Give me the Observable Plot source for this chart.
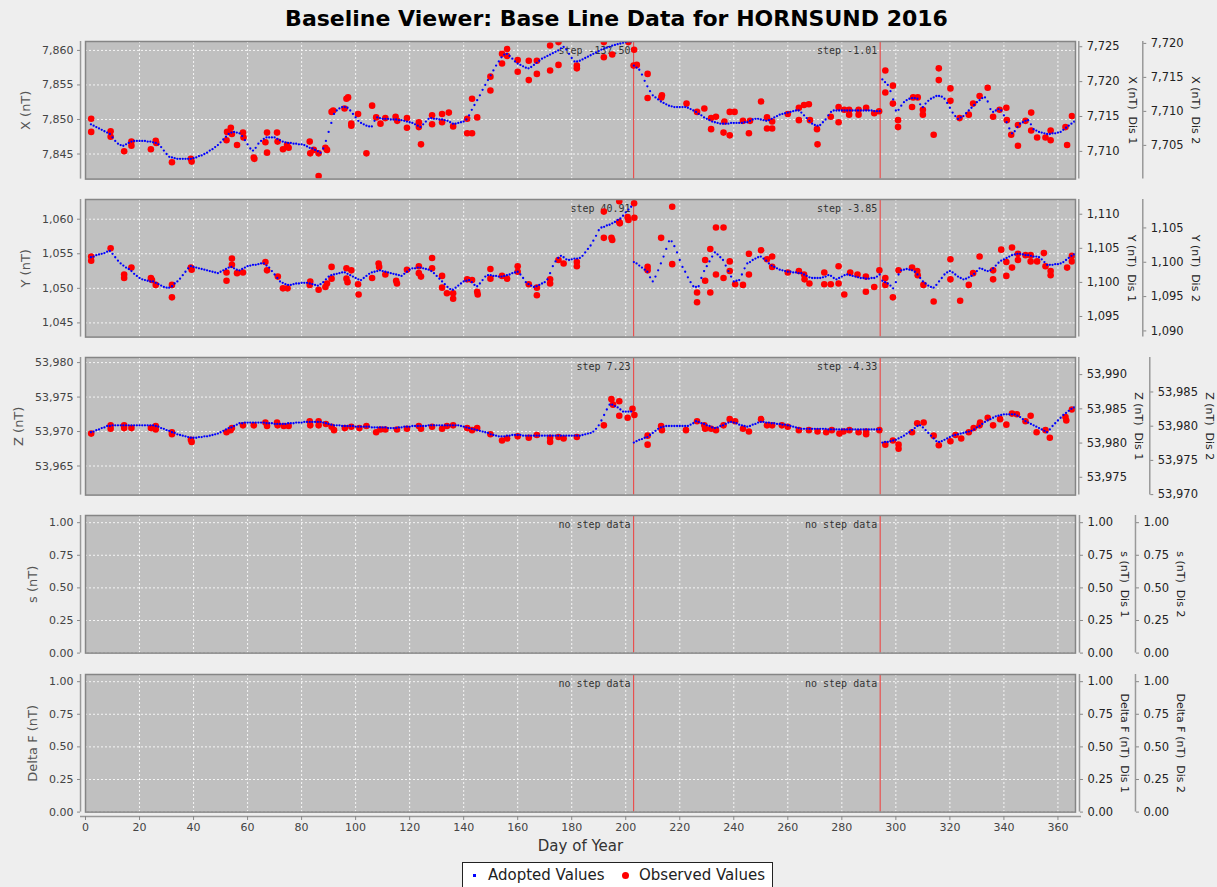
<!DOCTYPE html>
<html>
<head>
<meta charset="utf-8">
<script src="https://cdn.jsdelivr.net/npm/d3@7"></script>
<script src="https://cdn.jsdelivr.net/npm/@observablehq/plot@0.6"></script>
<style>
  html, body { margin: 0; padding: 0; background: #eeeeee; }
  #chart { position: relative; width: 1217px; height: 887px; overflow: hidden; font-family: "DejaVu Sans", sans-serif; }
  #title { position: absolute; left: 8px; width: 1217px; top: 6px; text-align: center; font: bold 22px "DejaVu Sans", sans-serif; color: #000; white-space: nowrap; }
  #legend { position: absolute; left: 462px; top: 862px; width: 309px; height: 30px; background: #fff; border: 1px solid #222; font: 15px "DejaVu Sans", sans-serif; color: #222; }
  #legend span { position: absolute; white-space: nowrap; }
  #legend .adopted-sym { left: 10px; top: 11px; width: 2.5px; height: 2.5px; background: #0000ff; }
  #legend .observed-sym { left: 159px; top: 8.5px; width: 7px; height: 7px; border-radius: 50%; background: #ff0000; }
  #legend .adopted-txt { left: 25px; top: 3px; }
  #legend .observed-txt { left: 176px; top: 3px; }
</style>
</head>
<body>
<div id="chart">
  <div id="title">Baseline Viewer: Base Line Data for HORNSUND 2016</div>
  <div id="legend">
    <span class="adopted-sym"></span><span class="adopted-txt">Adopted Values</span>
    <span class="observed-sym"></span><span class="observed-txt">Observed Values</span>
  </div>
</div>
<script>
// ---------- data ----------
const dayTicks = [0, 20, 40, 60, 80, 100, 120, 140, 160, 180, 200, 220, 240, 260, 280, 300, 320, 340, 360];
const dayDomain = [0, 366.5];
const stepDays = [202.9, 294.2];

const stepLabelsX = ["step -137.50", "step -1.01"];
const stepLabelsY = ["step 40.91", "step -3.85"];
const stepLabelsZ = ["step 7.23", "step -4.33"];
const stepLabelsNone = ["no step data", "no step data"];

const xTicks = [7845, 7850, 7855, 7860];
const xDis1Ticks = [7710, 7715, 7720, 7725];
const xDis2Ticks = [7705, 7710, 7715, 7720];
const yTicks = [1045, 1050, 1055, 1060];
const yDis1Ticks = [1095, 1100, 1105, 1110];
const yDis2Ticks = [1090, 1095, 1100, 1105];
const zTicks = [53965, 53970, 53975, 53980];
const zDis1Ticks = [53975, 53980, 53985, 53990];
const zDis2Ticks = [53970, 53975, 53980, 53985];
const unitTicks = [0, 0.25, 0.5, 0.75, 1];

// daily adopted baseline values, first entry is day 2
const firstAdoptedDay = 2;
const adoptedX = [
  7849.3,7849.1,7848.9,7848.7,7848.5,7848.3,7848.1,7847.9,7847.4,7846.9,
  7846.5,7846.3,7846.2,7846.4,7846.6,7846.8,7846.9,7846.9,7846.9,7846.9,
  7846.9,7846.8,7846.8,7846.7,7846.6,7846.4,7846.0,7845.5,7845.0,7844.6,
  7844.5,7844.4,7844.3,7844.3,7844.3,7844.3,7844.3,7844.3,7844.4,7844.5,
  7844.7,7844.8,7845.0,7845.2,7845.5,7845.7,7846.0,7846.3,7846.7,7847.1,
  7847.5,7847.9,7848.1,7848.2,7848.1,7848.0,7847.6,7847.0,7846.4,7845.8,
  7845.5,7845.9,7846.5,7846.9,7847.2,7847.4,7847.4,7847.4,7847.4,7847.2,
  7847.0,7846.8,7846.7,7846.6,7846.6,7846.5,7846.5,7846.4,7846.4,7846.3,
  7846.1,7845.9,7845.8,7845.6,7845.4,7845.2,7845.8,7846.9,7848.2,7849.5,
  7850.8,7851.3,7851.6,7851.8,7851.8,7851.7,7851.3,7850.8,7850.3,7849.8,
  7849.5,7849.3,7849.1,7849.0,7849.0,7849.8,7850.3,7850.2,7850.1,7850.1,
  7850.1,7850.0,7850.0,7850.0,7849.9,7849.9,7849.8,7849.7,7849.6,7849.5,
  7849.3,7849.1,7848.9,7849.3,7849.7,7850.1,7850.2,7850.1,7850.1,7850.0,
  7850.0,7849.9,7849.8,7849.6,7849.4,7849.4,7849.5,7849.6,7849.7,7850.0,
  7850.6,7851.4,7852.1,7852.8,7853.5,7854.3,7855.0,7855.7,7856.4,7857.1,
  7857.8,7858.4,7859.0,7859.4,7859.5,7859.2,7858.8,7858.4,7858.1,7857.9,
  7857.7,7857.5,7857.4,7857.6,7857.9,7858.2,7858.5,7858.8,7859.0,7859.2,
  7859.4,7859.6,7859.8,7860.0,7860.3,7860.5,7860.1,7859.5,7858.9,7858.4,
  7858.4,7858.5,7858.7,7858.9,7859.1,7859.3,7859.5,7859.7,7859.9,7860.1,
  7860.3,7860.4,7860.5,7860.7,7860.8,7860.9,7861.0,7861.1,7861.2,7861.3,
  7861.3,7857.8,7857.5,7857.2,7856.5,7855.6,7854.8,7854.1,7853.5,7853.2,
  7852.9,7852.6,7852.4,7852.2,7852.0,7851.9,7851.8,7851.8,7851.8,7851.8,
  7851.8,7851.7,7851.5,7851.3,7851.1,7850.8,7850.6,7850.3,7850.1,7849.9,
  7849.7,7849.6,7849.5,7849.4,7849.4,7849.4,7849.4,7849.5,7849.5,7849.5,
  7849.5,7849.5,7849.6,7849.6,7849.8,7850.0,7850.1,7850.1,7850.0,7849.9,
  7849.8,7849.9,7850.1,7850.3,7850.5,7850.7,7850.8,7850.9,7851.0,7851.1,
  7851.2,7851.3,7851.3,7851.0,7850.6,7850.2,7849.8,7849.4,7849.2,7849.1,
  7849.2,7849.6,7850.0,7850.6,7851.1,7851.3,7851.3,7851.3,7851.3,7851.3,
  7851.3,7851.3,7851.3,7851.3,7851.3,7851.3,7851.3,7851.3,7851.3,7851.3,
  7851.2,7851.2,7851.2,7855.8,7855.4,7855.0,7854.1,7852.9,7851.3,7851.4,
  7852.0,7852.5,7852.8,7853.0,7853.1,7853.1,7853.0,7852.2,7851.8,7852.3,
  7852.7,7853.0,7853.2,7853.4,7853.4,7853.3,7853.0,7852.4,7851.7,7851.0,
  7850.5,7850.1,7850.3,7850.5,7850.9,7851.3,7851.7,7852.1,7852.5,7852.8,
  7853.1,7853.2,7852.6,7851.5,7851.1,7851.3,7851.5,7851.3,7850.6,7849.6,
  7848.7,7848.0,7848.3,7848.9,7849.4,7849.6,7849.8,7849.9,7849.3,7848.6,
  7848.4,7848.2,7848.1,7848.0,7847.9,7847.9,7848.0,7848.0,7848.1,7848.2,
  7848.5,7848.8,7849.1,7849.4,7849.7
];
const adoptedY = [
  1054.5,1054.6,1054.8,1054.9,1055.0,1055.1,1055.3,1055.4,1055.0,1054.5,
  1054.0,1053.6,1053.3,1053.0,1052.8,1052.5,1052.1,1051.8,1051.5,1051.3,
  1051.2,1051.1,1051.0,1051.0,1050.8,1050.6,1050.4,1050.2,1050.1,1050.1,
  1050.3,1050.7,1051.0,1051.4,1051.9,1052.4,1052.9,1053.2,1053.1,1053.0,
  1052.9,1052.8,1052.7,1052.6,1052.5,1052.4,1052.3,1052.2,1052.4,1052.6,
  1052.8,1053.0,1053.1,1052.9,1052.7,1052.6,1052.8,1053.0,1053.2,1053.3,
  1053.4,1053.4,1053.5,1053.6,1053.6,1053.3,1053.0,1052.5,1052.0,1051.5,
  1051.0,1050.8,1050.6,1050.5,1050.5,1050.6,1050.7,1050.7,1050.8,1050.8,
  1050.8,1050.7,1050.6,1050.5,1050.4,1050.6,1050.9,1051.3,1051.7,1051.9,
  1052.0,1052.1,1052.2,1052.3,1052.3,1052.1,1051.9,1051.7,1051.5,1051.3,
  1051.2,1051.5,1051.8,1052.1,1052.3,1052.4,1052.5,1052.6,1052.5,1052.4,
  1052.3,1052.2,1052.1,1052.0,1051.9,1051.8,1052.1,1052.4,1052.7,1052.9,
  1052.9,1053.0,1053.0,1052.9,1052.8,1052.7,1052.5,1052.2,1051.8,1051.4,
  1051.0,1050.6,1050.2,1049.9,1049.8,1050.1,1050.4,1050.7,1051.0,1051.1,
  1051.2,1050.9,1050.5,1050.3,1050.7,1051.2,1051.7,1051.9,1051.9,1051.8,
  1051.8,1051.7,1051.7,1051.8,1051.9,1052.0,1052.2,1052.3,1052.4,1052.0,
  1051.5,1050.9,1050.6,1050.4,1050.2,1050.3,1050.5,1050.7,1050.9,1051.3,
  1052.2,1053.2,1053.9,1054.4,1054.7,1054.5,1054.2,1054.1,1054.2,1054.3,
  1054.3,1054.4,1054.7,1055.2,1055.7,1056.2,1056.9,1057.6,1058.4,1058.8,
  1058.9,1059.1,1059.2,1059.4,1059.6,1059.9,1060.1,1060.5,1061.0,1061.4,
  1061.8,1053.8,1053.6,1053.3,1053.0,1052.7,1052.4,1051.6,1051.0,1051.7,
  1052.6,1053.6,1054.6,1055.7,1056.8,1056.8,1056.1,1055.2,1054.1,1053.1,
  1052.4,1051.6,1050.9,1050.3,1050.2,1050.3,1051.5,1052.5,1053.2,1053.9,
  1054.6,1055.2,1054.9,1054.5,1054.1,1053.3,1052.5,1051.7,1051.0,1051.1,
  1051.2,1052.0,1052.9,1053.6,1053.8,1054.1,1054.3,1054.5,1054.6,1054.3,
  1054.0,1053.6,1053.3,1053.1,1052.9,1052.7,1052.6,1052.5,1052.4,1052.4,
  1052.3,1052.3,1052.2,1052.2,1052.0,1051.8,1051.6,1051.5,1051.5,1051.5,
  1051.5,1051.6,1051.7,1051.9,1051.8,1051.5,1051.3,1051.5,1051.7,1051.9,
  1052.0,1051.9,1051.8,1051.7,1051.6,1051.5,1051.5,1051.4,1051.4,1051.5,
  1051.5,1051.7,1052.0,1051.1,1050.9,1050.7,1050.4,1050.0,1050.9,1052.0,
  1052.6,1052.7,1052.8,1052.7,1052.6,1052.4,1052.0,1051.5,1051.0,1050.7,
  1050.4,1050.2,1050.1,1050.5,1051.0,1051.5,1052.0,1052.3,1052.5,1052.3,
  1052.0,1051.7,1051.5,1051.3,1051.4,1051.6,1051.8,1052.1,1052.5,1052.9,
  1052.8,1052.6,1052.5,1052.6,1052.9,1053.3,1053.7,1054.0,1054.2,1054.4,
  1054.6,1054.8,1054.9,1055.0,1055.0,1054.9,1054.8,1054.8,1054.7,1054.6,
  1054.6,1054.5,1054.2,1053.8,1053.4,1053.4,1053.4,1053.5,1053.5,1053.6,
  1053.8,1054.1,1054.4,1054.7,1054.9
];
const adoptedZ = [
  53969.9,53970.0,53970.2,53970.3,53970.5,53970.6,53970.8,53970.8,53970.9,53970.9,
  53970.9,53970.9,53970.9,53970.9,53970.9,53970.9,53970.9,53970.9,53970.9,53970.9,
  53970.9,53970.9,53970.9,53970.9,53970.8,53970.7,53970.5,53970.4,53970.2,53970.1,
  53969.9,53969.8,53969.6,53969.5,53969.4,53969.3,53969.2,53969.1,53969.1,53969.1,
  53969.2,53969.2,53969.3,53969.3,53969.4,53969.5,53969.6,53969.7,53969.9,53970.1,
  53970.3,53970.5,53970.6,53970.8,53971.0,53971.2,53971.2,53971.3,53971.3,53971.3,
  53971.3,53971.3,53971.3,53971.3,53971.3,53971.2,53971.2,53971.2,53971.1,53971.1,
  53971.1,53971.1,53971.1,53971.2,53971.2,53971.2,53971.3,53971.3,53971.3,53971.4,
  53971.4,53971.4,53971.4,53971.4,53971.4,53971.4,53971.3,53971.2,53971.1,53971.0,
  53970.9,53970.9,53970.9,53970.8,53970.8,53970.8,53970.8,53970.8,53970.7,53970.7,
  53970.7,53970.7,53970.7,53970.7,53970.6,53970.6,53970.6,53970.6,53970.6,53970.6,
  53970.5,53970.5,53970.5,53970.5,53970.6,53970.6,53970.7,53970.7,53970.7,53970.8,
  53970.8,53970.8,53970.8,53970.8,53970.8,53970.9,53970.9,53970.9,53970.9,53970.9,
  53970.9,53970.9,53970.9,53970.9,53970.9,53970.9,53970.9,53970.8,53970.7,53970.6,
  53970.5,53970.4,53970.3,53970.2,53970.1,53970.0,53969.9,53969.8,53969.6,53969.5,
  53969.4,53969.3,53969.3,53969.3,53969.4,53969.4,53969.5,53969.5,53969.5,53969.5,
  53969.4,53969.4,53969.4,53969.4,53969.4,53969.4,53969.4,53969.4,53969.4,53969.4,
  53969.4,53969.4,53969.4,53969.4,53969.4,53969.4,53969.4,53969.4,53969.4,53969.4,
  53969.4,53969.4,53969.5,53969.6,53969.7,53969.8,53970.0,53970.4,53970.9,53971.6,
  53972.4,53973.2,53973.9,53973.9,53973.7,53973.5,53973.2,53972.9,53972.9,53972.9,
  53972.9,53968.4,53968.6,53968.8,53968.9,53969.1,53969.2,53969.5,53969.8,53970.1,
  53970.4,53970.6,53970.7,53970.8,53970.8,53970.8,53970.8,53970.8,53970.8,53970.8,
  53970.8,53970.8,53971.0,53971.2,53971.5,53971.4,53971.2,53971.1,53970.9,53970.8,
  53970.6,53970.5,53970.6,53970.8,53970.9,53971.1,53971.3,53971.4,53971.3,53971.2,
  53971.0,53970.9,53970.8,53970.7,53970.8,53971.0,53971.1,53971.3,53971.4,53971.4,
  53971.3,53971.3,53971.2,53971.2,53971.1,53971.1,53971.0,53971.0,53970.9,53970.8,
  53970.7,53970.6,53970.5,53970.4,53970.4,53970.4,53970.4,53970.4,53970.4,53970.4,
  53970.4,53970.4,53970.4,53970.3,53970.3,53970.3,53970.3,53970.3,53970.3,53970.3,
  53970.3,53970.3,53970.3,53970.3,53970.3,53970.3,53970.3,53970.3,53970.3,53970.3,
  53970.3,53970.3,53970.3,53968.4,53968.5,53968.5,53968.6,53968.7,53968.8,53969.0,
  53969.2,53969.4,53969.7,53969.9,53970.2,53970.5,53970.8,53970.9,53970.6,53970.2,
  53969.8,53969.4,53969.0,53968.6,53968.5,53968.6,53968.8,53969.0,53969.2,53969.4,
  53969.5,53969.6,53969.7,53969.8,53969.9,53970.0,53970.1,53970.3,53970.6,53970.8,
  53971.1,53971.4,53971.6,53971.8,53972.0,53972.2,53972.3,53972.4,53972.5,53972.5,
  53972.5,53972.5,53972.5,53972.3,53972.1,53971.8,53971.5,53971.3,53971.1,53970.9,
  53970.7,53970.5,53970.3,53970.1,53969.9,53970.3,53970.8,53971.2,53971.6,53972.0,
  53972.4,53972.7,53973.0,53973.3,53973.5
];

// observed absolute measurements: [day of year, value]
const observedX = [
  [2.1,7850.1],[2.1,7848.2],[9.3,7848.3],[9.3,7847.5],[14.3,7845.4],[17,7846.8],[17,7846.2],[24.2,7845.7],[26,7846.9],[26.2,7846.6],
  [32,7843.8],[39,7844.3],[39.3,7843.9],[52.2,7847.0],[52.4,7848.2],[53.8,7848.8],[54.2,7847.9],[56.1,7846.3],[58.3,7848.1],[58.5,7847.4],
  [62.3,7844.5],[62.5,7844.3],[66.6,7846.7],[67.2,7848.1],[67.2,7845.2],[70.9,7848.1],[71.1,7846.8],[73.1,7845.7],[74.6,7846.3],[75.2,7845.9],
  [83,7846.8],[83.2,7845.1],[84.5,7845.6],[86.3,7845.1],[86.3,7841.8],[88.8,7845.9],[89.4,7845.6],[91.1,7851.1],[91.7,7851.3],[95.9,7851.6],
  [96.6,7853.0],[97.2,7853.2],[98.4,7849.1],[98.4,7849.4],[100.9,7850.8],[104,7845.1],[106.1,7852.0],[107.6,7850.3],[109.2,7849.4],[111,7850.2],
  [114.8,7850.4],[115.4,7849.8],[119,7850.2],[119,7848.8],[123.4,7849.6],[123.4,7848.9],[124.2,7846.4],[128.3,7850.6],[128.3,7849.3],[132,7850.8],
  [132,7849.6],[134.5,7851.0],[136.1,7849.0],[141.3,7850.1],[141.3,7848.0],[143.1,7848.0],[143.1,7853.0],[145,7850.3],[149.9,7854.2],[149.9,7856.2],
  [154.2,7859.5],[154.2,7858.1],[156.1,7860.2],[156.1,7859.2],[160,7858.6],[160,7856.9],[164.1,7858.5],[164.1,7855.7],[167.1,7858.5],[167.1,7856.6],
  [172,7860.7],[172,7857.1],[175.1,7861.2],[175.1,7857.9],[181.9,7857.8],[181.9,7857.4],[191.9,7861.2],[191.9,7859.0],[195,7859.4],[201,7861.2],
  [202.9,7857.8],[203.1,7860.1],[204.1,7857.9],[208.1,7856.6],[208.1,7853.1],[213.4,7853.5],[213.2,7853.2],[222.5,7852.3],[226.4,7851.1],[229.1,7851.6],
  [231.6,7850.2],[231.6,7848.6],[233.4,7850.4],[236.5,7849.7],[236.2,7848.1],[238.5,7851.1],[238.5,7847.7],[240.3,7851.1],[243.4,7849.8],[245.6,7848.0],
  [246,7849.8],[250.1,7852.6],[252.3,7850.3],[252.3,7848.7],[254.2,7848.7],[254.2,7849.7],[260,7850.8],[264.1,7849.9],[264.1,7851.7],[266,7852.1],
  [267.8,7852.2],[268.2,7849.9],[270.8,7848.6],[271,7846.4],[275.9,7850.4],[278.8,7851.8],[278.8,7849.6],[280.9,7851.4],[282.7,7851.4],[282.7,7850.7],
  [286.2,7851.4],[286.2,7850.7],[289,7851.7],[292,7850.9],[293.8,7851.2],[296.1,7857.1],[296.1,7853.9],[298.9,7854.9],[298.9,7852.3],[300.8,7849.9],
  [300.8,7848.9],[306,7851.8],[306.4,7853.2],[308.1,7853.2],[310,7851.4],[310,7850.7],[314,7847.8],[315.9,7857.4],[315.9,7855.7],[320.2,7854.5],
  [320.2,7852.7],[323.6,7850.2],[327,7850.7],[328.6,7852.3],[331,7853.4],[334,7854.6],[336,7850.4],[338.4,7851.4],[340.9,7851.7],[341.1,7849.9],
  [342.7,7847.8],[345.2,7849.2],[345.2,7846.2],[348,7849.8],[350.1,7851.0],[350.1,7848.4],[352.3,7847.4],[355.4,7847.4],[357.3,7848.4],[357.3,7847.0],
  [362.8,7848.9],[363.4,7846.3],[365.2,7850.5]
];
const observedY = [
  [2.1,1054.6],[2.1,1054.0],[9.3,1055.8],[14.3,1052.0],[14.3,1051.5],[17,1053.0],[24.2,1051.5],[24.6,1051.2],[26,1050.5],[32,1050.5],
  [32,1048.7],[39,1053.0],[39.3,1052.7],[52.2,1052.3],[52.2,1051.1],[54.2,1054.3],[54.2,1053.4],[56.1,1052.2],[58.3,1052.3],[66.6,1053.8],
  [67.2,1052.6],[71.2,1051.7],[73.1,1050.0],[74.8,1050.0],[83,1050.5],[83.2,1051.0],[86.3,1049.8],[88.8,1050.2],[89.4,1050.7],[91.1,1053.1],
  [91.1,1051.4],[96.6,1052.9],[96.6,1051.4],[97,1050.9],[98.4,1052.6],[100.9,1050.6],[101.1,1049.1],[106.1,1051.5],[108.5,1053.6],[108.7,1053.1],
  [111,1052.0],[115,1051.1],[115.3,1050.7],[119,1052.7],[123.4,1053.2],[123.4,1052.2],[124.2,1051.7],[128.3,1054.4],[128.3,1052.9],[132,1051.8],
  [132,1050.1],[133.8,1049.3],[136.1,1049.3],[136.1,1048.5],[141.3,1051.3],[143.1,1051.2],[145,1049.5],[145.2,1049.1],[149.9,1052.8],[149.9,1051.4],
  [154.2,1051.8],[156.1,1051.4],[160,1053.2],[160,1052.4],[164.1,1050.6],[167.1,1050.1],[167.1,1049.0],[172,1051.3],[172,1050.7],[175.1,1054.1],
  [177,1053.6],[181.9,1053.8],[181.9,1053.2],[191.9,1061.1],[191.9,1057.3],[194.7,1057.3],[195,1057.0],[197.6,1062.6],[197.6,1059.6],[197.8,1059.4],
  [200.7,1060.3],[201,1059.9],[203.1,1062.3],[203.2,1060.2],[208.1,1053.1],[208.1,1052.6],[213.1,1057.3],[217.2,1061.8],[217.2,1053.5],[226.4,1049.4],
  [226.4,1048.0],[229.4,1054.1],[229.4,1051.1],[231.3,1055.7],[231.3,1049.4],[233.4,1058.8],[233.4,1052.0],[236.2,1058.8],[236.2,1051.5],[238.5,1053.9],
  [238.5,1052.5],[240.5,1050.6],[243.4,1050.5],[245.6,1055.0],[245.6,1052.0],[250.1,1055.5],[252.3,1054.2],[254.2,1054.6],[254.2,1053.1],[260,1052.3],
  [264.1,1052.5],[266,1052.0],[266.2,1051.3],[268,1050.7],[273.5,1052.3],[273.5,1050.6],[275.9,1050.6],[278.8,1053.2],[278.8,1050.7],[280.9,1049.1],
  [283.1,1052.3],[285.8,1052.0],[288.9,1051.7],[288.9,1049.5],[292,1050.2],[293.9,1052.6],[296.1,1051.5],[296.1,1050.5],[298.9,1048.7],[301,1052.6],
  [306,1053.0],[307.9,1052.5],[308.1,1051.9],[310.2,1050.5],[314,1048.1],[320.2,1054.2],[320.2,1051.3],[323.8,1048.2],[327,1050.5],[328.6,1052.2],
  [331,1054.6],[336,1052.6],[336,1051.3],[339,1055.6],[340.9,1053.8],[340.9,1051.8],[343,1055.9],[343,1053.0],[345.2,1055.0],[345.2,1054.1],
  [348,1054.8],[349.9,1054.8],[349.9,1053.9],[352.3,1053.9],[354.8,1055.1],[355.4,1053.2],[357.3,1052.5],[357.3,1051.9],[363.4,1053.0],[365.2,1054.7],
  [365.2,1053.9]
];
const observedZ = [
  [2.1,53969.7],[9.3,53970.9],[9.3,53970.4],[14.3,53970.9],[14.3,53970.5],[17,53970.5],[24.2,53970.5],[26,53970.8],[26,53970.3],[32,53969.9],
  [32,53969.6],[39,53968.8],[39.3,53968.5],[52.2,53969.9],[53.7,53970.2],[54.2,53970.5],[58.3,53970.9],[62.3,53970.9],[66.6,53971.3],[67.2,53970.8],
  [70.9,53971.3],[71.1,53970.9],[73.4,53970.8],[75.2,53970.8],[83,53971.5],[83.2,53970.9],[86.3,53971.5],[86.3,53970.9],[89,53971.1],[91.1,53970.7],
  [92,53970.2],[96,53970.5],[98.4,53970.7],[101.4,53970.5],[104,53970.8],[107.6,53969.9],[109.2,53970.3],[111,53970.3],[115.3,53970.3],[119,53970.4],
  [123.4,53970.8],[124.2,53970.4],[128.3,53970.7],[132,53970.4],[133.8,53970.8],[136.1,53970.9],[141.3,53970.5],[143.1,53970.2],[145,53970.5],[149.9,53969.6],
  [154.2,53968.7],[156.1,53969.0],[160,53969.3],[164.1,53969.1],[167.1,53969.5],[172,53969.1],[172,53968.5],[175.1,53969.2],[177,53969.0],[181.9,53969.2],
  [191.9,53970.9],[194.7,53974.7],[195.3,53973.9],[197.6,53974.4],[197.6,53972.3],[200.7,53972.0],[202.5,53973.3],[203.2,53972.4],[208.1,53969.4],[208.1,53968.1],
  [213.1,53970.8],[213.4,53970.2],[222.3,53970.2],[226.4,53971.5],[229.1,53970.9],[229.4,53970.4],[231.6,53970.4],[233.4,53970.2],[236.2,53970.9],[238.5,53971.8],
  [240.5,53971.5],[243.4,53970.4],[245.6,53970.0],[250.1,53971.8],[252.3,53970.9],[254.2,53970.9],[257.8,53970.9],[260,53970.7],[264.1,53970.2],[267.8,53970.2],
  [271,53970.0],[274.2,53969.9],[276.3,53970.2],[279.1,53969.7],[280.6,53970.0],[282.8,53970.2],[286.2,53969.9],[289,53970.0],[289,53969.6],[293.9,53970.2],
  [296.1,53968.1],[298.9,53968.7],[301,53968.1],[301,53967.5],[306,53969.9],[307.9,53971.2],[310.3,53971.3],[314,53969.4],[315.9,53968.0],[320.2,53968.6],
  [322.1,53969.5],[324.2,53969.0],[327,53969.9],[328.8,53970.5],[331,53970.9],[331.2,53971.3],[334,53972.0],[336,53970.9],[338.6,53971.8],[340.9,53971.0],
  [343,53972.6],[344.8,53972.5],[348,53971.5],[349.9,53972.3],[352.1,53969.9],[355.4,53970.2],[357,53969.1],[362.8,53972.1],[363.1,53971.6],[365.2,53973.2]
];

// ---------- layout ----------
const FONT = "'DejaVu Sans', sans-serif";
const MONO = "'DejaVu Sans Mono', monospace";
const STEP_RED = "#e8504f";
const W = 1217, ML = 85, MR = 142, PANEL_H = 137.6, PAD = 14;
const chart = document.getElementById("chart");
const comma = d3.format(",");
const fixed2 = d3.format(".2f");

const panels = [
  {top: 40.8, label: "X (nT)", labelDx: -60, domain: [7841.37, 7861.29], ticks: xTicks, fmt: comma,
   steps: stepLabelsX, observed: observedX, adopted: adoptedX,
   dis: [{domain: [7706.03, 7725.75], ticks: xDis1Ticks, title: "X (nT)  Dis 1", line: 3.3, titleDx: 57},
         {domain: [7700.04, 7720.28], ticks: xDis2Ticks, title: "X (nT)  Dis 2", line: 67.3, titleDx: 120}]},
  {top: 199.3, label: "Y (nT)", labelDx: -60, domain: [1042.95, 1062.85], ticks: yTicks, fmt: comma,
   steps: stepLabelsY, observed: observedY, adopted: adoptedY,
   dis: [{domain: [1091.98, 1112.16], ticks: yDis1Ticks, title: "Y (nT)  Dis 1", line: 3.3, titleDx: 56},
         {domain: [1089.1, 1109.14], ticks: yDis2Ticks, title: "Y (nT)  Dis 2", line: 67.3, titleDx: 120}]},
  {top: 357.2, label: "Z (nT)", labelDx: -67, domain: [53960.78, 53980.74], ticks: zTicks, fmt: comma,
   steps: stepLabelsZ, observed: observedZ, adopted: adoptedZ,
   dis: [{domain: [53972.4, 53992.5], ticks: zDis1Ticks, title: "Z (nT)  Dis 1", line: 3.3, titleDx: 63},
         {domain: [53969.93, 53990.04], ticks: zDis2Ticks, title: "Z (nT)  Dis 2", line: 74.3, titleDx: 134}]},
  {top: 515.3, label: "s (nT)", labelDx: -53, domain: [0, 1.055], ticks: unitTicks, fmt: fixed2,
   steps: stepLabelsNone, observed: [], adopted: [],
   dis: [{domain: [0, 1.055], ticks: unitTicks, title: "s (nT)  Dis 1", line: 4, titleDx: 49},
         {domain: [0, 1.055], ticks: unitTicks, title: "s (nT)  Dis 2", line: 60, titleDx: 105}]},
  {top: 673.6, label: "Delta F (nT)", labelDx: -53, domain: [0, 1.055], ticks: unitTicks, fmt: fixed2,
   steps: stepLabelsNone, observed: [], adopted: [],
   dis: [{domain: [0, 1.055], ticks: unitTicks, title: "Delta F (nT)  Dis 1", line: 4, titleDx: 49},
         {domain: [0, 1.055], ticks: unitTicks, title: "Delta F (nT)  Dis 2", line: 60, titleDx: 105}]}
];

function place(svg, top) {
  svg.style.position = "absolute";
  svg.style.left = "0px";
  svg.style.top = top + "px";
  svg.style.pointerEvents = "none";
  chart.appendChild(svg);
}

function frameOptions(yDomain, marks, height, mt, mb) {
  return {
    width: W, height: height, marginTop: mt, marginBottom: mb, marginLeft: ML, marginRight: MR,
    style: {background: "transparent", fontFamily: FONT, fontSize: "11px", overflow: "visible"},
    x: {domain: dayDomain, axis: null},
    y: {domain: yDomain, axis: null},
    marks
  };
}

for (const p of panels) {
  const h = PANEL_H + 2 * PAD;
  const main = Plot.plot(frameOptions(p.domain, [
    Plot.frame({fill: "#c0c0c0", stroke: null}),
    Plot.gridX(dayTicks.slice(1), {stroke: "#ffffff", strokeOpacity: 0.85, strokeDasharray: "2,2"}),
    Plot.gridY(p.ticks, {stroke: "#ffffff", strokeOpacity: 0.85, strokeDasharray: "2,2"}),
    // instrument change markers, one rule per step
    ...stepDays.map(day => Plot.ruleX([day], {stroke: STEP_RED, strokeWidth: 1.2})),
    Plot.text(stepDays, {x: d => d, text: (d, i) => p.steps[i], frameAnchor: "top", textAnchor: "end",
      dx: -3, dy: 5.5, fontFamily: MONO, fontSize: 10, fill: "#333"}),
    Plot.dot(p.observed, {x: d => d[0], y: d => d[1], r: 3.3, fill: "#ff0000", stroke: "none", clip: true}),
    Plot.dot(p.adopted, {x: (d, i) => firstAdoptedDay + i, y: d => d, r: 1.15, fill: "#0000ff", stroke: "none", clip: true}),
    Plot.frame({stroke: "#858585", strokeWidth: 1.5}),
    Plot.ruleX([dayDomain[0]], {dx: -5, stroke: "#999", strokeWidth: 1.5}),
    Plot.axisY(p.ticks, {anchor: "left", dx: -5, tickSize: 3, tickPadding: 4, tickFormat: p.fmt,
      stroke: "#888", fill: "#444", fontSize: 11, label: null}),
    Plot.text([p.label], {text: d => d, frameAnchor: "left", textAnchor: "middle", dx: p.labelDx, rotate: -90, fontSize: 13, fill: "#555"})
  ], h, PAD, PAD));
  place(main, p.top - PAD);

  for (const d of p.dis) {
    const side = Plot.plot(frameOptions(d.domain, [
      Plot.ruleX([dayDomain[1]], {dx: d.line, stroke: "#999", strokeWidth: 1.5}),
      Plot.axisY(d.ticks, {anchor: "right", dx: d.line, tickSize: 3, tickPadding: 5, tickFormat: p.fmt,
        stroke: "#888", fill: "#222", fontSize: 11.5, label: null}),
      Plot.text([d.title], {text: t => t, frameAnchor: "right", textAnchor: "middle", dx: d.titleDx, rotate: 90, fontSize: 11, fill: "#222"})
    ], h, PAD, PAD));
    place(side, p.top - PAD);
  }
}

// shared day-of-year axis below the last panel
const axisSvg = Plot.plot(frameOptions([0, 1], [
  Plot.ruleY([0], {stroke: "#999", strokeWidth: 1.5, insetLeft: -5, insetRight: -6}),
  Plot.axisX(dayTicks, {anchor: "bottom", tickSize: 4, tickPadding: 3, stroke: "#888", fill: "#444", fontSize: 11, label: null}),
  Plot.text(["Day of Year"], {text: d => d, frameAnchor: "bottom", dy: 34, fontSize: 15, fill: "#333"})
], 60, 0, 56));
place(axisSvg, 812);

// keep the legend above the plots
chart.appendChild(document.getElementById("legend"));
</script>
</body>
</html>
